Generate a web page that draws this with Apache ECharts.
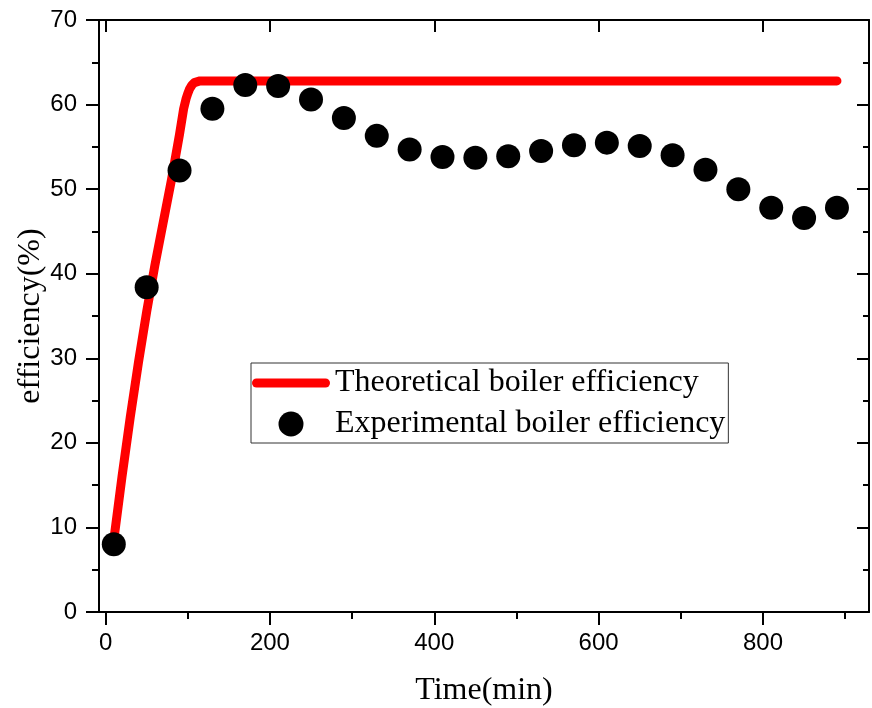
<!DOCTYPE html>
<html>
<head>
<meta charset="utf-8">
<script src="https://cdn.jsdelivr.net/npm/echarts@6/dist/echarts.min.js"></script>
<style>
  html, body { margin: 0; padding: 0; background: #fff; }
  #chart { width: 872px; height: 708px; }
</style>
</head>
<body>
<div id="chart"></div>
<script>
// time (min) of experimental samples
const expTime = [10, 50, 90, 130, 170, 210, 250, 290, 330, 370, 410, 450,
  490, 530, 570, 610, 650, 690, 730, 770, 810, 850, 890];
const expEff = [8.0, 38.4, 52.2, 59.5, 62.3, 62.2, 60.6, 58.4, 56.3, 54.7, 53.8, 53.7,
  53.9, 54.5, 55.2, 55.5, 55.1, 54.0, 52.3, 50.0, 47.8, 46.6, 47.8];

// theoretical curve
const theoTime = [10, 20, 30, 40, 50, 60, 70, 80, 90, 95, 98, 100, 102, 105, 108, 110, 115, 890];
const theoEff = [8.5, 16.0, 23.0, 29.5, 35.5, 41.0, 46.0, 51.0, 56.5, 59.5, 60.7, 61.3, 61.8, 62.3, 62.6, 62.7, 62.8, 62.8];

const xMajor = [0, 200, 400, 600, 800];
const xMinor = [100, 300, 500, 700, 900];

const legendNames = ['Theoretical boiler efficiency', 'Experimental boiler efficiency'];

const chart = echarts.init(document.getElementById('chart'));

const sans = 'Liberation Sans, Arial, sans-serif';
const serif = 'Liberation Serif, Times New Roman, serif';
const black = { color: '#000', width: 2 };

function xAx(pos, ticks, len, inside, extra) {
  return Object.assign({
    type: 'value', position: pos, min: -8, max: 929,
    axisLine: { show: true, onZero: false, lineStyle: black },
    axisTick: { show: true, customValues: ticks, length: len, inside: inside, lineStyle: black },
    axisLabel: { show: false },
    splitLine: { show: false }
  }, extra || {});
}

const option = {
  animation: false,
  grid: { left: 99, right: 3, top: 20, bottom: 96, outerBoundsMode: 'none' },
  legend: {
    orient: 'vertical',
    left: 251, top: 363,
    padding: [4, 3, 3, 1],
    itemGap: 9,
    itemWidth: 78, itemHeight: 25,
    borderColor: '#333', borderWidth: 1,
    selectedMode: false,
    textStyle: { fontFamily: serif, fontSize: 32, lineHeight: 32, color: '#000' },
    data: [
      { name: legendNames[0], icon: 'path://M4.5,0H73.5A4.5,4.5,0,0,1,73.5,9H4.5A4.5,4.5,0,0,1,4.5,0Z', itemStyle: { color: '#ff0000' } },
      { name: legendNames[1], icon: 'circle', itemStyle: { color: '#000' } }
    ]
  },
  xAxis: [
    xAx('bottom', xMajor, 13, false, {
      axisLabel: { show: true, customValues: xMajor, fontFamily: sans, fontSize: 24, color: '#000', margin: 19 },
      name: 'Time(min)', nameLocation: 'middle', nameGap: 63, nameMoveOverlap: false,
      nameTextStyle: { fontFamily: serif, fontSize: 32, color: '#000' }
    }),
    xAx('bottom', xMinor, 7, false, { axisLine: { show: false } }),
    xAx('top', xMajor, 12, true),
    xAx('top', xMinor, 6, true, { axisLine: { show: false } })
  ],
  yAxis: [
    {
      type: 'value', position: 'left', min: 0, max: 70, interval: 10,
      axisLine: { show: true, onZero: false, lineStyle: black },
      axisTick: { show: true, length: 13, lineStyle: black },
      minorTick: { show: true, splitNumber: 2, length: 7, lineStyle: black },
      axisLabel: { fontFamily: sans, fontSize: 24, color: '#000', margin: 22 },
      splitLine: { show: false },
      name: 'efficiency(%)', nameLocation: 'middle', nameGap: 52, nameMoveOverlap: false,
      nameTextStyle: { fontFamily: serif, fontSize: 32, color: '#000' }
    },
    {
      type: 'value', position: 'right', min: 0, max: 70, interval: 10,
      axisLine: { show: true, onZero: false, lineStyle: black },
      axisTick: { show: true, inside: true, length: 12, lineStyle: black },
      minorTick: { show: true, splitNumber: 2, length: 6, lineStyle: black },
      axisLabel: { show: false },
      splitLine: { show: false }
    }
  ],
  series: [
    {
      name: legendNames[0],
      type: 'line',
      showSymbol: false,
      symbol: 'none',
      data: theoTime.map((t, i) => [t, theoEff[i]]),
      lineStyle: { color: '#ff0000', width: 9, cap: 'round', join: 'round' },
      itemStyle: { color: '#ff0000' },
      z: 2
    },
    {
      name: legendNames[1],
      type: 'scatter',
      symbol: 'circle',
      symbolSize: 24,
      data: expTime.map((t, i) => [t, expEff[i]]),
      itemStyle: { color: '#000', opacity: 1 },
      z: 3
    }
  ]
};

chart.setOption(option);
</script>
</body>
</html>
